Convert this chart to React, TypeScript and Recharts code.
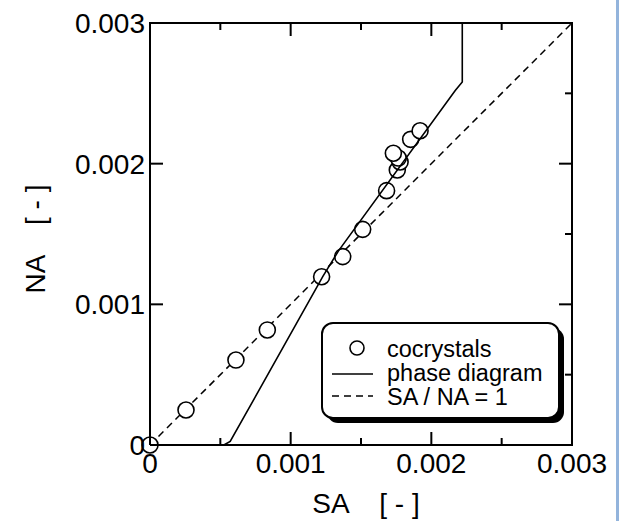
import React from 'react';
import { ScatterChart, Scatter, XAxis, YAxis, Legend } from 'recharts';

// ---- data ----
const cocrystalSA = [0, 0.000256, 0.000611, 0.000834, 0.00122, 0.00137, 0.001512, 0.001682, 0.001758, 0.001778, 0.001765, 0.00173, 0.001853, 0.00192];
const cocrystalNA = [0, 0.000249, 0.000604, 0.000818, 0.001196, 0.001339, 0.001533, 0.001808, 0.001955, 0.002012, 0.00204, 0.002074, 0.002173, 0.002234];

const phaseSA = [0.000525, 0.00057, 0.00123, 0.00134, 0.00217, 0.00222, 0.00222];
const phaseNA = [0, 0.000025, 0.0012, 0.00138, 0.00252, 0.00258, 0.003];

const ratioSA = [0, 0.003];
const ratioNA = [0, 0.003];

const axisTicks = [0, 0.0005, 0.001, 0.0015, 0.002, 0.0025, 0.003];
const majorLabels: Record<string, string> = { '0': '0', '2': '0.001', '4': '0.002', '6': '0.003' };

const legendLabels = ['cocrystals', 'phase diagram', 'SA / NA = 1'];
const xTitle = 'SA    [ - ]';
const yTitle = 'NA    [ - ]';

const zip = (xs: number[], ys: number[]) => xs.map((x, i) => ({ sa: x, na: ys[i] }));
const cocrystals = zip(cocrystalSA, cocrystalNA);
const phase = zip(phaseSA, phaseNA);
const ratio = zip(ratioSA, ratioNA);

const FONT = '"Liberation Sans", Arial, sans-serif';
const step = (v: number) => Math.round(v / 0.0005);
const isMajor = (v: number) => step(v) % 2 === 0;
const labelOf = (v: number) => majorLabels[String(step(v))] ?? '';

const BottomTick = (p: any) => {
  const { x, y, payload } = p;
  const major = isMajor(payload.value);
  return (
    <g>
      <line x1={x} y1={y} x2={x} y2={y - (major ? 13 : 7)} stroke="#000" strokeWidth={2} />
      {major && (
        <text x={x} y={y + 28} textAnchor="middle" fontSize={28} fill="#000" fontFamily={FONT}>
          {labelOf(payload.value)}
        </text>
      )}
    </g>
  );
};

const TopTick = (p: any) => {
  const { x, y, payload } = p;
  const major = isMajor(payload.value);
  return <line x1={x} y1={y} x2={x} y2={y + (major ? 13 : 7)} stroke="#000" strokeWidth={2} />;
};

const LeftTick = (p: any) => {
  const { x, y, payload } = p;
  const major = isMajor(payload.value);
  if (!major) return <g />;
  return (
    <g>
      <line x1={x} y1={y} x2={x + 13} y2={y} stroke="#000" strokeWidth={2} />
      <text x={x - 5} y={y + 10} textAnchor="end" fontSize={28} fill="#000" fontFamily={FONT}>
        {labelOf(payload.value)}
      </text>
    </g>
  );
};

const RightTick = (p: any) => {
  const { x, y, payload } = p;
  const major = isMajor(payload.value);
  return <line x1={x} y1={y} x2={x - (major ? 13 : 7)} y2={y} stroke="#000" strokeWidth={2} />;
};

const CircleShape = (p: any) => (
  <circle cx={p.cx} cy={p.cy} r={8} fill="#fff" stroke="#000" strokeWidth={1.6} />
);
const NoShape = () => <g />;

const LegendBox = () => (
  <svg width={246} height={104} style={{ display: 'block' }}>
    <rect x={6} y={6} width={237} height={95} rx={11} fill="#000" />
    <rect x={1} y={1} width={237} height={95} rx={11} fill="#fff" stroke="#000" strokeWidth={2} />
    <circle cx={36} cy={26} r={7} fill="#fff" stroke="#000" strokeWidth={1.6} />
    <line x1={11} y1={52} x2={52} y2={52} stroke="#000" strokeWidth={1.6} />
    <line x1={11} y1={74} x2={52} y2={74} stroke="#000" strokeWidth={1.6} strokeDasharray="7 5" />
    {legendLabels.map((t, i) => (
      <text key={t} x={66} y={35 + i * 24} fontSize={23.5} fill="#000" fontFamily={FONT}>
        {t}
      </text>
    ))}
  </svg>
);

const axisLine = { stroke: '#000', strokeWidth: 2, strokeLinecap: 'square' as const };

export default function App() {
  return (
    <div style={{ position: 'absolute', left: 0, top: 0, width: 626, height: 521, background: '#fff', fontFamily: FONT }}>
      <ScatterChart width={626} height={521} margin={{ top: 22, right: 53, bottom: 0, left: 0 }}>
        <XAxis
          xAxisId="b"
          dataKey="sa"
          type="number"
          domain={[0, 0.003]}
          ticks={axisTicks}
          height={76}
          tickSize={0}
          tickMargin={0}
          tickLine={false}
          axisLine={axisLine}
          tick={BottomTick}
          interval={0}
          label={{
            content: (lp: any) => {
              const vb = lp.viewBox;
              return (
                <text x={vb.x + vb.width / 2 + 5} y={vb.y + 68} textAnchor="middle" fontSize={28} fill="#000" fontFamily={FONT} style={{ whiteSpace: 'pre' }}>
                  {xTitle}
                </text>
              );
            },
          }}
        />
        <XAxis
          xAxisId="t"
          dataKey="sa"
          orientation="top"
          type="number"
          domain={[0, 0.003]}
          ticks={axisTicks}
          height={1}
          tickSize={0}
          tickMargin={0}
          tickLine={false}
          axisLine={axisLine}
          tick={TopTick}
          interval={0}
        />
        <YAxis
          yAxisId="l"
          dataKey="na"
          type="number"
          domain={[0, 0.003]}
          ticks={axisTicks}
          width={150}
          tickSize={0}
          tickMargin={0}
          tickLine={false}
          axisLine={axisLine}
          tick={LeftTick}
          interval={0}
          label={{
            content: (lp: any) => {
              const vb = lp.viewBox;
              const cx = vb.x + 35;
              const cy = vb.y + vb.height / 2 + 5;
              return (
                <text x={cx} y={cy} transform={`rotate(-90, ${cx}, ${cy})`} textAnchor="middle" dominantBaseline="central" fontSize={28} fill="#000" fontFamily={FONT} style={{ whiteSpace: 'pre' }}>
                  {yTitle}
                </text>
              );
            },
          }}
        />
        <YAxis
          yAxisId="r"
          dataKey="na"
          orientation="right"
          type="number"
          domain={[0, 0.003]}
          ticks={axisTicks}
          width={1}
          tickSize={0}
          tickMargin={0}
          tickLine={false}
          axisLine={axisLine}
          tick={RightTick}
          interval={0}
        />
        <Legend verticalAlign="middle" layout="horizontal" align="center" content={LegendBox} wrapperStyle={{ left: 321, top: 322, width: 246, height: 104 }} />
        <Scatter
          xAxisId="t"
          yAxisId="r"
          data={ratio}
          line={{ stroke: '#000', strokeWidth: 1.5, strokeDasharray: '7 5' }}
          lineType="joint"
          shape={NoShape}
          isAnimationActive={false}
        />
        <Scatter xAxisId="b" yAxisId="l" data={cocrystals} shape={CircleShape} isAnimationActive={false} />
        <Scatter
          xAxisId="b"
          yAxisId="l"
          data={phase}
          line={{ stroke: '#000', strokeWidth: 1.6 }}
          lineType="joint"
          shape={NoShape}
          isAnimationActive={false}
        />
      </ScatterChart>
      <div style={{ position: 'absolute', left: 616, top: 0, width: 3, height: 521, background: '#93b4dc' }} />
    </div>
  );
}
